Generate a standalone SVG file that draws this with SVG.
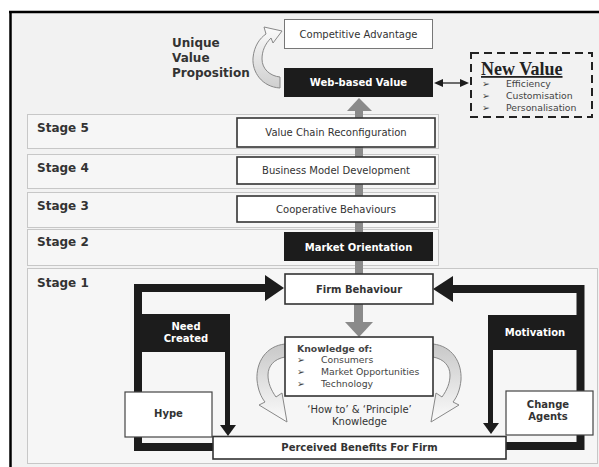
<svg xmlns="http://www.w3.org/2000/svg" width="599" height="467" viewBox="0 0 599 467">
<defs>
<style>
.band{fill:#f6f6f6;stroke:#9a9a9a;stroke-width:1;stroke-dasharray:1 1}
.stage{font-family:"DejaVu Sans",sans-serif;font-weight:bold;font-size:12px;fill:#333}
.box{fill:#fff;stroke:#333;stroke-width:1.6}
.dark{fill:#1c1c1c}
.t{font-family:"DejaVu Sans",sans-serif;font-size:10px;fill:#333;text-anchor:middle}
.l{font-family:"DejaVu Sans",sans-serif;font-size:9.3px;fill:#444}
.b{font-weight:bold}
.w{fill:#fff}
.gray{fill:#8a8a8a}
.loop{fill:none;stroke:#1c1c1c;stroke-width:8;stroke-linejoin:miter}
.thin{fill:none;stroke:#1c1c1c;stroke-width:5}
.head{fill:#1c1c1c}
.curve{fill:url(#g);stroke:#888;stroke-width:1}
.curveU{fill:url(#gu);stroke:#888;stroke-width:1}
</style>
<linearGradient id="g" x1="0" y1="0" x2="0" y2="1">
<stop offset="0" stop-color="#c8c8c8"/>
<stop offset="1" stop-color="#fbfbfb"/>
</linearGradient>
<linearGradient id="gu" x1="0" y1="0" x2="0" y2="1">
<stop offset="0" stop-color="#fbfbfb"/>
<stop offset="1" stop-color="#cfcfcf"/>
</linearGradient>
</defs>

<rect x="0" y="0" width="599" height="467" fill="#fff"/>
<rect x="10" y="12" width="589" height="455" fill="#f2f2f2"/>
<line x1="10.5" y1="11" x2="10.5" y2="467" stroke="#000" stroke-width="2.5"/>
<line x1="9" y1="12" x2="599" y2="12" stroke="#000" stroke-width="2.5"/>

<g id="bands">
<rect class="band" x="27.5" y="114.5" width="411" height="34"/>
<rect class="band" x="27.5" y="154.5" width="411" height="34"/>
<rect class="band" x="27.5" y="192.5" width="411" height="35"/>
<rect class="band" x="27.5" y="229.5" width="411" height="36"/>
<rect class="band" x="27.5" y="268.5" width="570" height="195"/>
<text class="stage" x="37" y="132">Stage 5</text>
<text class="stage" x="37" y="172">Stage 4</text>
<text class="stage" x="37" y="210">Stage 3</text>
<text class="stage" x="37" y="246">Stage 2</text>
<text class="stage" x="37" y="287">Stage 1</text>
</g>

<g id="connectors">
<rect class="gray" x="355" y="105" width="8" height="170"/>
<polygon class="gray" points="347,111 359,98 372,111"/>
<rect class="gray" x="354" y="303" width="9" height="20"/>
<polygon class="gray" points="345,322 373,322 359,337"/>
<path class="loop" d="M 214 447 H 138 V 288 H 267"/>
<polygon class="head" points="265,275 284,288 265,301"/>
<path class="loop" d="M 505 446 H 580.5 V 289 H 452"/>
<polygon class="head" points="453,276 433,289 453,302"/>
<line class="thin" x1="227.5" y1="350" x2="227.5" y2="426"/>
<polygon class="head" points="220,425 236,425 228,436"/>
<line class="thin" x1="490.5" y1="349" x2="490.5" y2="424"/>
<polygon class="head" points="483,423 499,423 491,434"/>
<line x1="441" y1="83" x2="462" y2="83" stroke="#222" stroke-width="1.3"/>
<polygon class="head" points="434,83 443,79 443,87"/>
<polygon class="head" points="469,83 460,79 460,87"/>
<path class="curveU" d="M 280 88 C 262 87 252 72 253 58 C 254 46 260 38 266 34 L 264 27 L 282 31 L 273 43 L 271 38 C 265 44 262 51 262 59 C 262 69 270 76 280 77 Z"/>
<path class="curve" d="M 285 344 C 266 346 256 362 257 380 C 258 390 261 397 265 402 L 259 405 L 287 422 L 282 393 L 276 397 C 271 390 268 383 268 375 C 268 366 274 359 285 357 Z"/>
<path class="curve" transform="translate(718,0) scale(-1,1)" d="M 285 344 C 266 346 256 362 257 380 C 258 390 261 397 265 402 L 259 405 L 287 422 L 282 393 L 276 397 C 271 390 268 383 268 375 C 268 366 274 359 285 357 Z"/>
</g>

<g id="uvp">
<text class="stage" x="172" y="47">Unique</text>
<text class="stage" x="172" y="62">Value</text>
<text class="stage" x="172" y="77">Proposition</text>
</g>

<g id="competitive-advantage">
<rect x="284.5" y="19.5" width="148" height="29" fill="#fff" stroke="#777" stroke-width="1"/>
<text class="t" x="358.5" y="37.5" font-size="9.5" fill="#444">Competitive Advantage</text>
</g>

<g id="web-based-value">
<rect class="dark" x="284" y="68" width="149" height="29"/>
<text class="t b w" x="358.5" y="86" font-size="11">Web-based Value</text>
</g>

<g id="new-value">
<rect x="471" y="53" width="121" height="64" fill="none" stroke="#222" stroke-width="2" stroke-dasharray="8 5"/>
<text x="481" y="75" font-family="'Liberation Serif',serif" font-weight="bold" font-size="18" fill="#222" text-decoration="underline">New Value</text>
<text class="l" x="482" y="87" font-size="8">➢</text>
<text class="l" x="506" y="87">Efficiency</text>
<text class="l" x="482" y="99" font-size="8">➢</text>
<text class="l" x="506" y="99">Customisation</text>
<text class="l" x="482" y="111" font-size="8">➢</text>
<text class="l" x="506" y="111">Personalisation</text>
</g>

<g id="value-chain">
<rect class="box" x="237" y="118" width="198" height="29"/>
<text class="t" x="336" y="136">Value Chain Reconfiguration</text>
</g>

<g id="business-model">
<rect class="box" x="237" y="157" width="198" height="27"/>
<text class="t" x="336" y="174">Business Model Development</text>
</g>

<g id="cooperative">
<rect class="box" x="237" y="196" width="198" height="26"/>
<text class="t" x="336" y="213">Cooperative Behaviours</text>
</g>

<g id="market-orientation">
<rect class="dark" x="284" y="232" width="149" height="29"/>
<text class="t b w" x="358.5" y="250.5" font-size="11">Market Orientation</text>
</g>

<g id="firm-behaviour">
<rect class="box" x="285" y="274" width="148" height="30"/>
<text class="t b" x="359" y="293" font-size="12">Firm Behaviour</text>
</g>

<g id="knowledge">
<rect class="box" x="285" y="337" width="148" height="59" stroke-width="1.2"/>
<text class="l b" x="297" y="352" fill="#333" font-size="9.5">Knowledge of:</text>
<text class="l" x="297" y="363" font-size="8">➢</text>
<text class="l" x="321" y="363">Consumers</text>
<text class="l" x="297" y="375" font-size="8">➢</text>
<text class="l" x="321" y="375">Market Opportunities</text>
<text class="l" x="297" y="387" font-size="8">➢</text>
<text class="l" x="321" y="387">Technology</text>
</g>

<g id="how-to">
<text class="t" x="359.5" y="413" font-size="9.3" fill="#444">‘How to’ &amp; ‘Principle’</text>
<text class="t" x="359.5" y="424.5" font-size="9.3" fill="#444">Knowledge</text>
</g>

<g id="need-created">
<rect class="dark" x="134" y="314" width="96" height="38"/>
<text class="t b w" x="186" y="330">Need</text>
<text class="t b w" x="186" y="342">Created</text>
</g>

<g id="motivation">
<rect class="dark" x="488" y="315" width="95" height="35"/>
<text class="t b w" x="535" y="336">Motivation</text>
</g>

<g id="hype">
<rect x="125" y="392" width="87" height="45" fill="#fff" stroke="#444" stroke-width="1.2"/>
<text class="t b" x="168.5" y="417">Hype</text>
</g>

<g id="change-agents">
<rect x="506" y="391" width="87" height="44" fill="#fff" stroke="#444" stroke-width="1.2"/>
<text class="t b" x="548" y="408" font-size="10.5">Change</text>
<text class="t b" x="548" y="420" font-size="10.5">Agents</text>
</g>

<g id="perceived-benefits">
<rect class="box" x="213" y="436.5" width="293" height="22.5" stroke-width="1.4"/>
<text class="t b" x="359.5" y="451" font-size="9.5">Perceived Benefits For Firm</text>
</g>
</svg>
